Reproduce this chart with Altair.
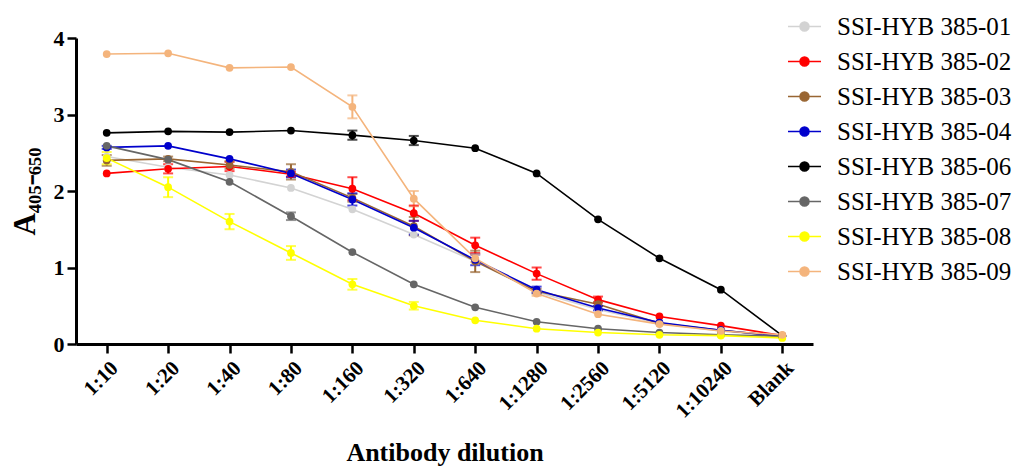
import altair as alt
import pandas as pd

dilutions = ["1:10", "1:20", "1:40", "1:80", "1:160", "1:320", "1:640",
             "1:1280", "1:2560", "1:5120", "1:10240", "Blank"]

series = ["SSI-HYB 385-01", "SSI-HYB 385-02", "SSI-HYB 385-03", "SSI-HYB 385-04",
          "SSI-HYB 385-06", "SSI-HYB 385-07", "SSI-HYB 385-08", "SSI-HYB 385-09"]

colors = ["#D3D3D3", "#FF0000", "#996633", "#0000CC",
          "#000000", "#666666", "#FFFF00", "#F4B47C"]

v01 = [2.45, 2.31, 2.21, 2.04, 1.76, 1.43, 1.08, 0.68, 0.45, 0.27, 0.17, 0.10]
v02 = [2.23, 2.29, 2.32, 2.22, 2.03, 1.71, 1.29, 0.92, 0.58, 0.36, 0.24, 0.11]
v03 = [2.40, 2.42, 2.34, 2.25, 1.91, 1.54, 1.08, 0.69, 0.52, 0.27, 0.18, 0.10]
v04 = [2.57, 2.59, 2.42, 2.23, 1.89, 1.52, 1.10, 0.71, 0.47, 0.28, 0.18, 0.10]
v06 = [2.76, 2.78, 2.77, 2.79, 2.73, 2.66, 2.56, 2.23, 1.63, 1.12, 0.71, 0.11]
v07 = [2.59, 2.41, 2.12, 1.67, 1.20, 0.78, 0.48, 0.29, 0.20, 0.15, 0.12, 0.10]
v08 = [2.43, 2.05, 1.60, 1.19, 0.78, 0.50, 0.31, 0.20, 0.15, 0.12, 0.11, 0.08]
v09 = [3.79, 3.80, 3.61, 3.62, 3.10, 1.90, 1.12, 0.66, 0.39, 0.26, 0.17, 0.12]

e01 = [0, 0, 0, 0, 0, 0, 0, 0, 0, 0, 0, 0]
e02 = [0, 0.06, 0.06, 0.03, 0.15, 0.10, 0.10, 0.08, 0.04, 0, 0, 0]
e03 = [0.07, 0.03, 0.05, 0.10, 0.05, 0.12, 0.14, 0.03, 0.03, 0, 0, 0]
e04 = [0.02, 0, 0, 0.05, 0.08, 0.09, 0.07, 0.04, 0.03, 0, 0, 0]
e06 = [0, 0, 0, 0, 0.06, 0.06, 0, 0, 0, 0, 0, 0]
e07 = [0, 0, 0, 0.05, 0, 0, 0, 0, 0, 0, 0, 0]
e08 = [0.08, 0.13, 0.10, 0.09, 0.07, 0.05, 0, 0, 0, 0, 0, 0]
e09 = [0, 0, 0, 0, 0.15, 0.10, 0.05, 0.03, 0, 0, 0, 0]

values = [v01, v02, v03, v04, v06, v07, v08, v09]
errors = [e01, e02, e03, e04, e06, e07, e08, e09]

rows = []
for s, vals, errs in zip(series, values, errors):
    for i, (d, v, e) in enumerate(zip(dilutions, vals, errs)):
        rows.append({"series": s, "dilution": d, "idx": i, "value": v, "err": e,
                     "lo": v - e, "hi": v + e})
df = pd.DataFrame(rows)

FONT = "Liberation Serif"

x_enc = alt.X("dilution:N", sort=dilutions,
              scale=alt.Scale(type="point", padding=0.5),
              axis=alt.Axis(title="Antibody dilution", labelAngle=-45,
                            labelFont=FONT, labelFontSize=21, labelFontWeight="bold",
                            labelColor="black", titleFont=FONT, titleFontSize=26,
                            titleFontWeight="bold", titleColor="black",
                            titlePadding=18, domainColor="black", domainWidth=3,
                            tickColor="black", tickWidth=2.5, tickSize=9,
                            labelPadding=4, grid=False))
color_enc = alt.Color("series:N", sort=series,
                      scale=alt.Scale(domain=series, range=colors),
                      legend=alt.Legend(title=None, orient="none", legendX=711, legendY=-29,
                                        symbolType="M-1,0H1M0.27,0A0.27,0.27,0,1,1,-0.27,0A0.27,0.27,0,1,1,0.27,0",
                                        symbolSize=1089, symbolStrokeWidth=1.6,
                                        labelFont=FONT, labelFontSize=25, labelColor="black",
                                        labelOffset=15, rowPadding=4, padding=0,
                                        labelLimit=400))
y_enc = alt.Y("value:Q", scale=alt.Scale(domain=[0, 4]),
              axis=alt.Axis(title="A₄₀₅₋₆₅₀", values=[0, 1, 2, 3, 4], format="d",
                            labelFont=FONT, labelFontSize=22, labelFontWeight="bold",
                            labelColor="black", titleFont=FONT, titleFontSize=31,
                            titleFontWeight="bold", titleColor="black",
                            titlePadding=12, domainColor="black", domainWidth=3,
                            tickColor="black", tickWidth=2.5, tickSize=9,
                            labelPadding=3, grid=False))

base = alt.Chart(df)

lines = base.mark_line(strokeWidth=1.6).encode(x=x_enc, y=y_enc, color=color_enc,
                                              order=alt.Order("idx:Q"))
err_df = df[df["err"] > 0]
ebase = alt.Chart(err_df)
rules = ebase.mark_rule(strokeWidth=2).encode(
    x=alt.X("dilution:N", sort=dilutions), y="lo:Q", y2="hi:Q",
    color=alt.Color("series:N", sort=series, legend=None))
tick_lo = ebase.mark_tick(size=10, thickness=2).encode(
    x=alt.X("dilution:N", sort=dilutions), y="lo:Q",
    color=alt.Color("series:N", sort=series, legend=None))
tick_hi = ebase.mark_tick(size=10, thickness=2).encode(
    x=alt.X("dilution:N", sort=dilutions), y="hi:Q",
    color=alt.Color("series:N", sort=series, legend=None))
points = base.mark_circle(size=60, opacity=1).encode(x=x_enc, y=y_enc, color=color_enc)

chart = alt.layer(lines, rules, tick_lo, tick_hi, points).properties(
    width=737, height=306,
    autosize=alt.AutoSizeParams(type="none"),
    padding={"left": 68, "top": 30, "right": 201, "bottom": 122},
    background="white"
).configure_view(stroke=None)

chart.save("out.html", embed_options={"renderer": "svg", "actions": False})
